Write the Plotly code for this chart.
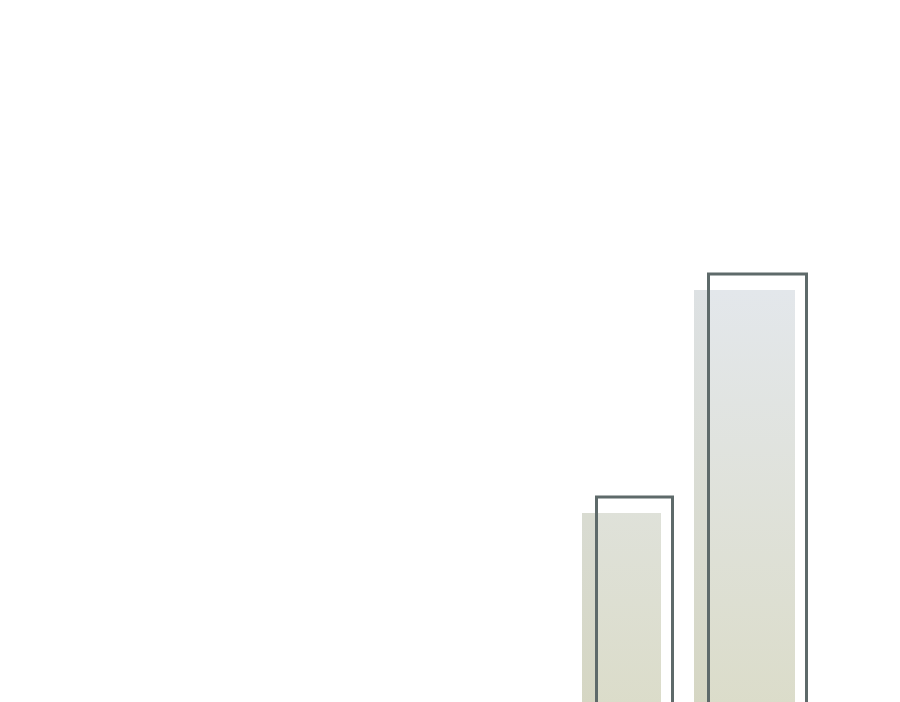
import plotly.graph_objects as go

# Data
categories = ["A", "B"]
filled_values = [202, 425]
outline_values = [218, 441]

# Layout / style (positions in x-axis units)
fill_pos = [613.5, 736.5]
fill_width = [79, 101]
outline_pos = [626.5, 749.5]
outline_width = [76, 98]

grad = [[0, "#dbdcc9"], [1, "#e3e7eb"]]
top = max(filled_values)

fig = go.Figure()
# Filled bars with a vertical gradient shared by both bars
for cat, p, w, v in zip(categories, fill_pos, fill_width, filled_values):
    x0, x1 = p - w / 2, p + w / 2
    fig.add_trace(go.Scatter(
        x=[x0, x1, x1, x0, x0], y=[0, 0, v, v, 0],
        mode="lines", line=dict(width=0), fill="toself",
        fillgradient=dict(type="vertical", colorscale=grad, start=0, stop=top),
        name=cat, showlegend=False, hoverinfo="skip",
    ))

# Subtle shade on the part of each filled bar left of its outline
for cat, p, w, v, op, ow in zip(categories, fill_pos, fill_width, filled_values,
                                outline_pos, outline_width):
    x0, x1 = p - w / 2, op - ow / 2
    fig.add_trace(go.Scatter(
        x=[x0, x1, x1, x0, x0], y=[0, 0, v, v, 0],
        mode="lines", line=dict(width=0), fill="toself",
        fillcolor="rgba(110,110,70,0.05)",
        showlegend=False, hoverinfo="skip",
    ))

# Outline bars drawn on top
for cat, p, w, v in zip(categories, outline_pos, outline_width, outline_values):
    x0, x1 = p - w / 2, p + w / 2
    fig.add_trace(go.Scatter(
        x=[x0, x0, x1, x1], y=[0, v, v, 0],
        mode="lines", line=dict(width=3, color="#5e6a6a"),
        name=cat, showlegend=False, hoverinfo="skip",
    ))

fig.update_layout(
    width=900, height=702,
    margin=dict(l=0, r=0, t=0, b=0),
    paper_bgcolor="white", plot_bgcolor="white",
    xaxis=dict(range=[0, 900], visible=False, fixedrange=True),
    yaxis=dict(range=[5, 707], visible=False, fixedrange=True),
)
fig.write_html("out.html")
